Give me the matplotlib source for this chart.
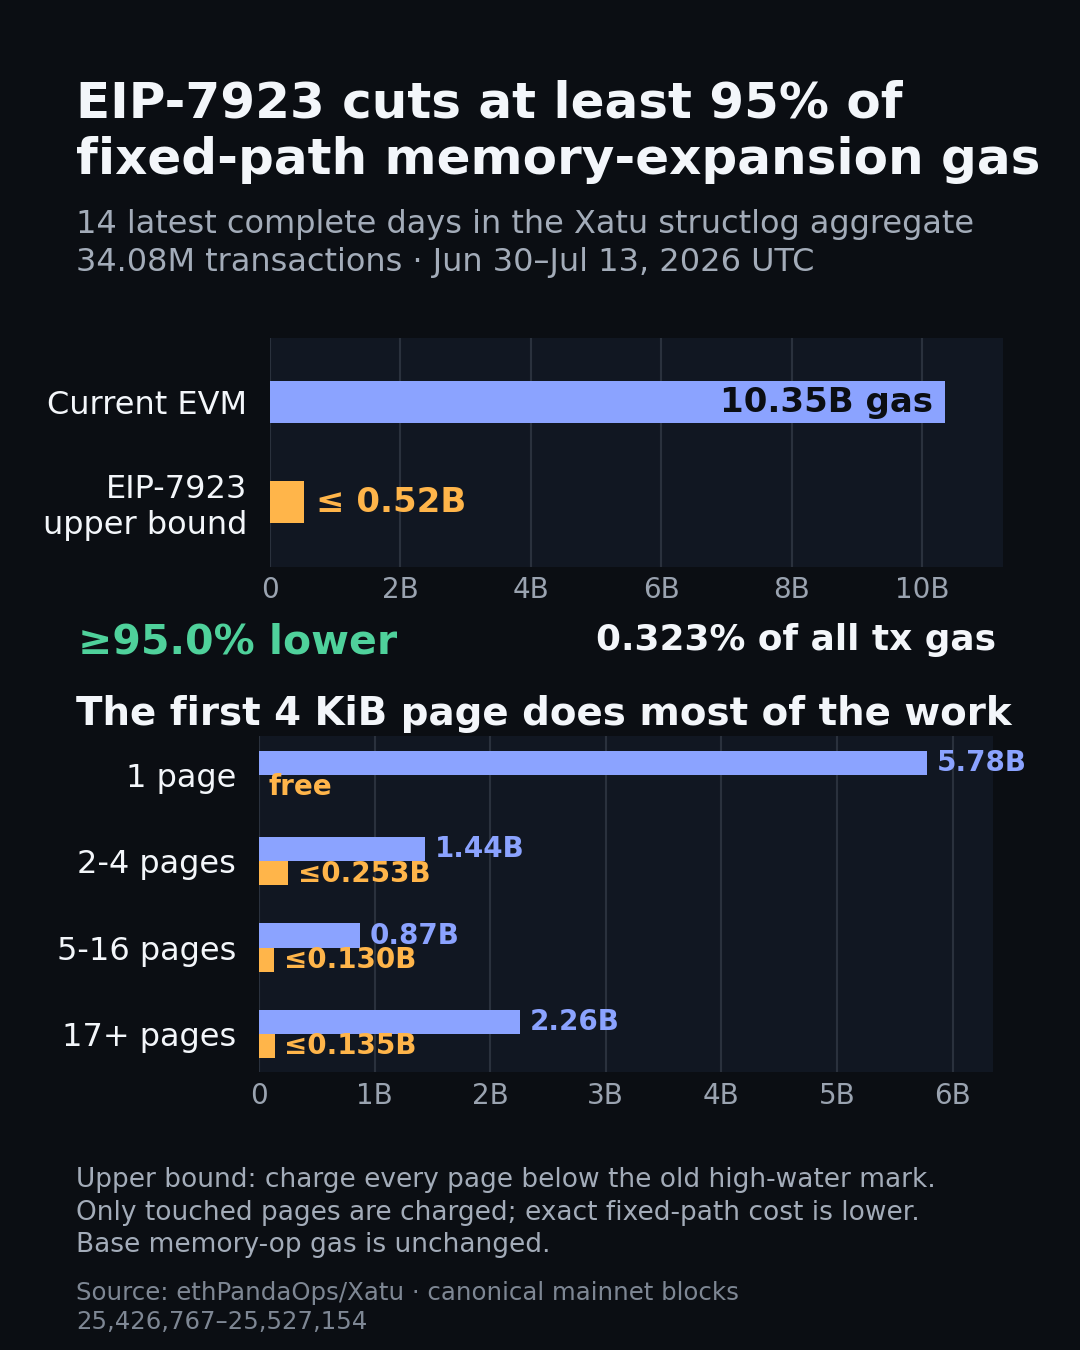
import matplotlib
matplotlib.use("Agg")
import matplotlib.pyplot as plt
from matplotlib.ticker import FuncFormatter, MultipleLocator

# ---------------- data ----------------
top_categories = ["Current EVM", "EIP-7923\nupper bound"]
top_values = [10.35, 0.52]          # billions of gas
top_labels = ["10.35B gas", "≤ 0.52B"]

bucket_categories = ["1 page", "2-4 pages", "5-16 pages", "17+ pages"]
current_gas = [5.78, 1.44, 0.87, 2.26]      # billions
eip_gas = [0.0, 0.253, 0.130, 0.135]        # billions (upper bound)
current_labels = ["5.78B", "1.44B", "0.87B", "2.26B"]
eip_labels = ["free", "≤0.253B", "≤0.130B", "≤0.135B"]

title_lines = ["EIP-7923 cuts at least 95% of", "fixed-path memory-expansion gas"]
subtitle_lines = ["14 latest complete days in the Xatu structlog aggregate",
                  "34.08M transactions · Jun 30–Jul 13, 2026 UTC"]
reduction_text = "≥95.0% lower"
share_text = "0.323% of all tx gas"
section_title = "The first 4 KiB page does most of the work"
note_lines = ["Upper bound: charge every page below the old high-water mark.",
              "Only touched pages are charged; exact fixed-path cost is lower.",
              "Base memory-op gas is unchanged."]
source_lines = ["Source: ethPandaOps/Xatu · canonical mainnet blocks",
                "25,426,767–25,527,154"]

# ---------------- style ----------------
BG = "#0b0e13"
PANEL = "#111722"
GRID = "#2a313d"
BLUE = "#8ba3ff"
ORANGE = "#ffb54a"
GREEN = "#4fd19b"
WHITE = "#f3f6fa"
SUB = "#a3acb9"
TICK = "#9aa3b0"
SRC = "#7e8794"

plt.rcParams["font.family"] = ["DejaVu Sans"]

W, H = 1080, 1350
fig = plt.figure(figsize=(W / 100, H / 100), dpi=100, facecolor=BG)

def px(x, y):
    return x / W, 1 - y / H

def ftext(x, y, s, **kw):
    fx, fy = px(x, y)
    fig.text(fx, fy, s, va="baseline", **kw)

# titles
ftext(76, 117, title_lines[0], fontsize=36, fontweight="bold", color=WHITE)
ftext(76, 174, title_lines[1], fontsize=36, fontweight="bold", color=WHITE)
ftext(76, 233, subtitle_lines[0], fontsize=23, color=SUB)
ftext(76, 271, subtitle_lines[1], fontsize=23, color=SUB)

def style_axes(ax):
    ax.set_facecolor(PANEL)
    for s in ax.spines.values():
        s.set_visible(False)
    ax.grid(axis="x", color=GRID, linewidth=1.5)
    ax.set_axisbelow(True)
    ax.tick_params(axis="both", length=0)
    ax.tick_params(axis="y", pad=16.5, labelsize=23, labelcolor=WHITE)
    ax.tick_params(axis="x", labelsize=20, labelcolor=TICK)

def bfmt(v, _):
    return "0" if v == 0 else f"{v:g}B"

# ---------------- top chart ----------------
x0, y0 = px(270, 566.7)
ax1 = fig.add_axes([x0, y0, 733.4 / W, 229 / H])
style_axes(ax1)
ypos = list(range(len(top_categories)))
ax1.barh(ypos, top_values, height=0.42, color=[BLUE, ORANGE])
ax1.set_xlim(0, 11.24)
ax1.set_ylim(1.648, -0.642)
ax1.xaxis.set_major_locator(MultipleLocator(2))
ax1.xaxis.set_major_formatter(FuncFormatter(bfmt))
ax1.set_yticks(ypos)
ax1.set_yticklabels(top_categories)
for t in ax1.get_yticklabels():
    t.set_linespacing(1.18)
ax1.tick_params(axis="x", pad=7)
ax1.annotate(top_labels[0], xy=(top_values[0], 0), xytext=(-9, 2),
             textcoords="offset points", ha="right", va="center_baseline",
             fontsize=24.5, fontweight="bold", color="#0b0e13")
ax1.annotate(top_labels[1], xy=(top_values[1], 1), xytext=(9, 2),
             textcoords="offset points", ha="left", va="center_baseline",
             fontsize=24.5, fontweight="bold", color=ORANGE)

# callouts
ftext(78, 653, reduction_text, fontsize=29.5, fontweight="bold", color=GREEN)
ftext(996, 650, share_text, fontsize=25.8, fontweight="bold", color=WHITE, ha="right")
ftext(76, 725, section_title, fontsize=27.9, fontweight="bold", color=WHITE)

# ---------------- bottom chart ----------------
x0, y0 = px(259, 1072.3)
ax2 = fig.add_axes([x0, y0, 734 / W, 336.6 / H])
style_axes(ax2)
ypos2 = list(range(len(bucket_categories)))
bh = 0.28
ax2.barh([y - bh / 2 for y in ypos2], current_gas, height=bh, color=BLUE)
ax2.barh([y + bh / 2 for y in ypos2], eip_gas, height=bh, color=ORANGE)
ax2.set_xlim(0, 6.35)
ax2.set_ylim(3.445, -0.455)
ax2.xaxis.set_major_locator(MultipleLocator(1))
ax2.xaxis.set_major_formatter(FuncFormatter(bfmt))
ax2.set_yticks(ypos2)
ax2.set_yticklabels(bucket_categories)
ax2.tick_params(axis="x", pad=7)
for i in ypos2:
    ax2.annotate(current_labels[i], xy=(current_gas[i], i - bh / 2), xytext=(7, 2),
                 textcoords="offset points", ha="left", va="center_baseline",
                 fontsize=20, fontweight="bold", color=BLUE)
    ax2.annotate(eip_labels[i], xy=(eip_gas[i], i + bh / 2), xytext=(7, 2),
                 textcoords="offset points", ha="left", va="center_baseline",
                 fontsize=20, fontweight="bold", color=ORANGE)

# notes
for k, line in enumerate(note_lines):
    ftext(76, 1187 + 32.5 * k, line, fontsize=19, color=SUB)
for k, line in enumerate(source_lines):
    ftext(76, 1300 + 29 * k, line, fontsize=17.6, color=SRC)

fig.savefig("out.png", dpi=100, facecolor=BG)
